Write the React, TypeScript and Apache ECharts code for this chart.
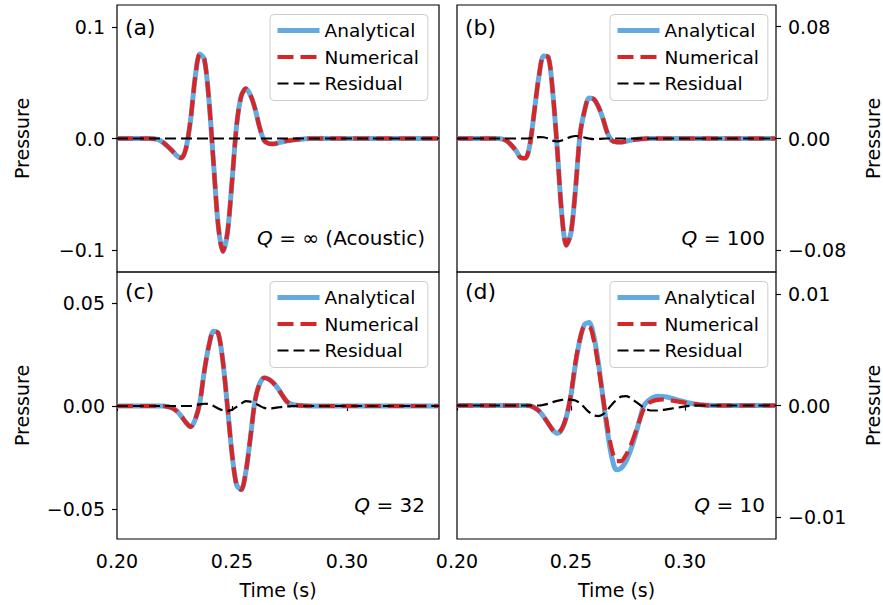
import React, { useEffect, useRef } from "react";
import * as echarts from "echarts";

// Time samples (s)
const TIME = [
  0.200, 0.205, 0.210, 0.214, 0.216, 0.218, 0.220, 0.222, 0.224, 0.226,
  0.228, 0.230, 0.232, 0.234, 0.236, 0.238, 0.240, 0.242, 0.244, 0.246,
  0.248, 0.250, 0.252, 0.254, 0.256, 0.258, 0.260, 0.262, 0.264, 0.266,
  0.268, 0.270, 0.272, 0.274, 0.276, 0.278, 0.280, 0.282, 0.284, 0.286,
  0.288, 0.290, 0.292, 0.294, 0.296, 0.298, 0.300, 0.302, 0.304, 0.306,
  0.308, 0.310, 0.315, 0.320, 0.330, 0.340,
];

// (a) Q = inf
const A_ANALYTICAL = [
  0, 0, 0, 0, -0.0003, -0.001, -0.0035, -0.007, -0.011, -0.0155,
  -0.0175, -0.0087, 0.017, 0.055, 0.0759, 0.071, 0.034, -0.023, -0.078, -0.1015,
  -0.085, -0.039, 0.0117, 0.038, 0.0448, 0.039, 0.027, 0.01, -0.002, -0.0045,
  -0.0049, -0.004, -0.003, -0.002, -0.0015, -0.001, -0.0006, -0.0003, 0, 0,
  0, 0, 0, 0, 0, 0, 0, 0, 0, 0,
  0, 0, 0, 0, 0, 0,
];
const A_NUMERICAL = [
  0, 0, 0, 0, -0.0003, -0.001, -0.0035, -0.007, -0.011, -0.0155,
  -0.0175, -0.0087, 0.017, 0.055, 0.0759, 0.071, 0.034, -0.023, -0.078, -0.1015,
  -0.085, -0.039, 0.0117, 0.038, 0.0448, 0.039, 0.027, 0.01, -0.002, -0.0045,
  -0.0049, -0.004, -0.003, -0.002, -0.0015, -0.001, -0.0006, -0.0003, 0, 0,
  0, 0, 0, 0, 0, 0, 0, 0, 0, 0,
  0, 0, 0, 0, 0, 0,
];
const A_RESIDUAL = [
  0, 0, 0, 0, 0, 0, 0, 0, 0, 0,
  0, 0, 0, 0, 0, 0, 0, 0, 0, 0,
  0, 0, 0, 0, 0, 0, 0, 0, 0, 0,
  0, 0, 0, 0, 0, 0, 0, 0, 0, 0,
  0, 0, 0, 0, 0, 0, 0, 0, 0, 0,
  0, 0, 0, 0, 0, 0,
];

// (b) Q = 100
const B_ANALYTICAL = [
  0, 0, 0, 0, 0, 0, -0.0005, -0.002, -0.005, -0.009,
  -0.0138, -0.0141, -0.0042, 0.0203, 0.045, 0.059, 0.0584, 0.0336, -0.0078, -0.0543,
  -0.0764, -0.0676, -0.0364, 0.0029, 0.0201, 0.029, 0.0282, 0.023, 0.0145, 0.004,
  -0.0015, -0.0026, -0.0027, -0.002, -0.0013, -0.0008, -0.0004, -0.0002, 0, 0,
  0, 0, 0, 0, 0, 0, 0, 0, 0, 0,
  0, 0, 0, 0, 0, 0,
];
const B_NUMERICAL = [
  0, 0, 0, 0, 0, 0, -0.0005, -0.002, -0.005, -0.009,
  -0.0138, -0.0141, -0.0042, 0.0203, 0.045, 0.059, 0.0584, 0.0336, -0.0078, -0.0543,
  -0.0764, -0.0676, -0.0364, 0.0029, 0.0201, 0.029, 0.0282, 0.023, 0.0145, 0.004,
  -0.0015, -0.0026, -0.0027, -0.002, -0.0013, -0.0008, -0.0004, -0.0002, 0, 0,
  0, 0, 0, 0, 0, 0, 0, 0, 0, 0,
  0, 0, 0, 0, 0, 0,
];
const B_RESIDUAL = [
  0, 0, 0, 0, 0, 0, 0, 0, 0, 0,
  0, 0, 0.0002, 0.0006, 0.001, 0.0009, 0, -0.0015, -0.002, -0.0014,
  0, 0.0012, 0.0018, 0.0014, 0.0007, 0, -0.0004, -0.0003, -0.0001, 0,
  0, 0, 0, 0, 0, 0, 0, 0, 0, 0,
  0, 0, 0, 0, 0, 0, 0, 0, 0, 0,
  0, 0, 0, 0, 0, 0,
];

// (c) Q = 32
const C_ANALYTICAL = [
  0, 0, 0, 0, 0, 0, 0, -0.0003, -0.001, -0.0025,
  -0.005, -0.008, -0.0101, -0.0066, 0.0016, 0.0172, 0.0295, 0.0363, 0.0354, 0.0219,
  0, -0.0231, -0.0383, -0.0406, -0.032, -0.0153, 0.0025, 0.0108, 0.0137, 0.013,
  0.0112, 0.0085, 0.005, 0.002, 0.0008, 0.0004, 0.0002, 0.0001, 0, 0,
  0, 0, 0, 0, 0, 0, 0, 0, 0, 0,
  0, 0, 0, 0, 0, 0,
];
const C_NUMERICAL = [
  0, 0, 0, 0, 0, 0, 0, -0.0003, -0.001, -0.0025,
  -0.005, -0.008, -0.0101, -0.0066, 0.0016, 0.0172, 0.0295, 0.0363, 0.0354, 0.0219,
  0, -0.0231, -0.0383, -0.0406, -0.032, -0.0153, 0.0025, 0.0108, 0.0137, 0.013,
  0.0112, 0.0085, 0.005, 0.002, 0.0008, 0.0004, 0.0002, 0.0001, 0, 0,
  0, 0, 0, 0, 0, 0, 0, 0, 0, 0,
  0, 0, 0, 0, 0, 0,
];
const C_RESIDUAL = [
  0, 0, 0, 0, 0, 0, 0, 0, 0, 0,
  0, 0, 0, 0.0004, 0.0008, 0.0011, 0.0009, 0, -0.0012, -0.0021,
  -0.0024, -0.0018, -0.0004, 0.0012, 0.0024, 0.0021, 0.0012, 0.0001, -0.0009, -0.0012,
  -0.001, -0.0007, -0.0004, -0.0002, -0.0001, 0, 0, 0, 0, 0,
  0, 0, 0, 0, 0, 0, 0, 0, 0, 0,
  0, 0, 0, 0, 0, 0,
];

// (d) Q = 10
const D_ANALYTICAL = [
  0, 0, 0, 0, 0, 0, 0, 0, 0, 0,
  0, 0, -0.00003, -0.0002, -0.0005, -0.001, -0.0016, -0.0022, -0.0025, -0.00214,
  -0.00102, 0.0009, 0.00373, 0.00598, 0.00729, 0.00745, 0.00627, 0.00391, 0.00082, -0.00229,
  -0.00471, -0.00578, -0.00564, -0.00508, -0.00413, -0.00288, -0.00141, 0, 0.00043, 0.00072,
  0.00084, 0.00082, 0.00076, 0.00066, 0.00055, 0.00043, 0.00032, 0.00022, 0.00014, 0.00008,
  0.00004, 0.00002, 0, 0, 0, 0,
];
const D_NUMERICAL = [
  0, 0, 0, 0, 0, 0, 0, 0, 0, 0,
  0, 0, -0.00003, -0.0002, -0.0005, -0.001, -0.0016, -0.0022, -0.0025, -0.0021,
  -0.001, 0.001, 0.0039, 0.006, 0.0071, 0.0071, 0.0059, 0.0036, 0.0008, -0.0019,
  -0.004, -0.005, -0.005, -0.0045, -0.0037, -0.0026, -0.0014, -0.0003, 0.0002, 0.0004,
  0.0005, 0.00054, 0.0005, 0.00045, 0.0004, 0.00033, 0.00026, 0.0002, 0.00014, 0.00009,
  0.00005, 0.00002, 0, 0, 0, 0,
];
const D_RESIDUAL = [
  0, 0, 0, 0, 0, 0, 0, 0, 0, 0,
  0, 0, 0, 0, 0, 0.00005, 0.00015, 0.0003, 0.00042, 0.0005,
  0.00054, 0.00052, 0.00045, 0.0002, -0.0002, -0.0006, -0.00088, -0.00095, -0.0008, -0.0004,
  0.0001, 0.0005, 0.0008, 0.00084, 0.0007, 0.0004, 0.0001, -0.0002, -0.0004, -0.00045,
  -0.00045, -0.0004, -0.00035, -0.00028, -0.0002, -0.00014, -0.00008, -0.00004, -0.00002, 0,
  0, 0, 0, 0, 0, 0,
];

const X_TICKS = [0.2, 0.25, 0.3];
const X_TICK_LABELS = ["0.20", "0.25", "0.30"];

const A_Y_TICKS = [-0.1, 0, 0.1];
const A_Y_LABELS = ["\u22120.1", "0.0", "0.1"];
const B_Y_TICKS = [-0.08, 0, 0.08];
const B_Y_LABELS = ["\u22120.08", "0.00", "0.08"];
const C_Y_TICKS = [-0.05, 0, 0.05];
const C_Y_LABELS = ["\u22120.05", "0.00", "0.05"];
const D_Y_TICKS = [-0.01, 0, 0.01];
const D_Y_LABELS = ["\u22120.01", "0.00", "0.01"];

const SERIES_NAMES = ["Analytical", "Numerical", "Residual"];
const PANEL_LABELS = ["(a)", "(b)", "(c)", "(d)"];
const Q_VALUES = ["\u221E (Acoustic)", "100", "32", "10"];

const FONT = "DejaVu Sans";
const BLUE = "#62aae0";
const RED = "#d62728";

export default function App() {
  const ref = useRef<HTMLDivElement>(null);

  useEffect(() => {
    if (!ref.current) return;
    const chart = echarts.init(ref.current, null, { renderer: "svg" });

    const W = 322;
    const H = 267;
    const panels = [
      { left: 117, top: 5, side: "left", bottomRow: false, yMin: -0.12, yMax: 0.12,
        ticks: A_Y_TICKS, labels: A_Y_LABELS, an: A_ANALYTICAL, nu: A_NUMERICAL, re: A_RESIDUAL },
      { left: 457, top: 5, side: "right", bottomRow: false, yMin: -0.0955, yMax: 0.0955,
        ticks: B_Y_TICKS, labels: B_Y_LABELS, an: B_ANALYTICAL, nu: B_NUMERICAL, re: B_RESIDUAL },
      { left: 117, top: 272, side: "left", bottomRow: true, yMin: -0.0645, yMax: 0.065,
        ticks: C_Y_TICKS, labels: C_Y_LABELS, an: C_ANALYTICAL, nu: C_NUMERICAL, re: C_RESIDUAL },
      { left: 457, top: 272, side: "right", bottomRow: true, yMin: -0.012, yMax: 0.012,
        ticks: D_Y_TICKS, labels: D_Y_LABELS, an: D_ANALYTICAL, nu: D_NUMERICAL, re: D_RESIDUAL },
    ];

    const pick = (ticks: number[], labels: string[]) => (v: number) => {
      let best = 0;
      for (let k = 1; k < ticks.length; k++) {
        if (Math.abs(ticks[k] - v) < Math.abs(ticks[best] - v)) best = k;
      }
      return labels[best];
    };

    const zip = (vals: number[]) => TIME.map((t, k) => [t, vals[k]]);

    const grid = panels.map((p) => ({
      left: p.left, top: p.top, width: W, height: H,
      show: true, borderColor: "#000", borderWidth: 1.2, backgroundColor: "transparent",
    }));

    const xAxis = panels.map((p, i) => ({
      type: "value", gridIndex: i, min: 0.2, max: 0.34,
      axisLine: { show: false },
      splitLine: { show: false },
      axisTick: { show: p.bottomRow, length: 5, inside: false, customValues: X_TICKS,
        lineStyle: { color: "#000", width: 1.2 } },
      axisLabel: { show: p.bottomRow, customValues: X_TICKS, formatter: pick(X_TICKS, X_TICK_LABELS),
        fontSize: 19, fontFamily: FONT, color: "#000", margin: 12 },
      name: p.bottomRow ? "Time (s)" : "",
      nameLocation: "middle", nameGap: 41,
      nameTextStyle: { fontSize: 19, fontFamily: FONT, color: "#000" },
    }));

    const yAxis = panels.map((p, i) => ({
      type: "value", gridIndex: i, min: p.yMin, max: p.yMax, position: p.side,
      axisLine: { show: false },
      splitLine: { show: false },
      axisTick: { show: true, length: 5, inside: false, customValues: p.ticks,
        lineStyle: { color: "#000", width: 1.2 } },
      axisLabel: { show: true, customValues: p.ticks, formatter: pick(p.ticks, p.labels),
        fontSize: 19, fontFamily: FONT, color: "#000", margin: 12 },
      name: "Pressure", nameLocation: "middle", nameRotate: 90,
      nameGap: p.side === "left" ? 86 : 87,
      nameTextStyle: { fontSize: 19, fontFamily: FONT, color: "#000" },
    }));

    const series: any[] = [];
    panels.forEach((p, i) => {
      series.push({
        name: SERIES_NAMES[0], type: "line", xAxisIndex: i, yAxisIndex: i,
        data: zip(p.an), symbol: "none", showSymbol: false, smooth: 0.3, z: 2,
        lineStyle: { color: BLUE, width: 5 }, itemStyle: { color: BLUE },
      });
      series.push({
        name: SERIES_NAMES[1], type: "line", xAxisIndex: i, yAxisIndex: i,
        data: zip(p.nu), symbol: "none", showSymbol: false, smooth: 0.3, z: 3,
        lineStyle: { color: RED, width: 4.2, type: [16, 7] }, itemStyle: { color: RED },
      });
      series.push({
        name: SERIES_NAMES[2], type: "line", xAxisIndex: i, yAxisIndex: i,
        data: zip(p.re), symbol: "none", showSymbol: false, smooth: 0.3, z: 4,
        lineStyle: { color: "#000", width: 2.2, type: [11, 5] }, itemStyle: { color: "#000" },
      });
    });

    const legend = panels.map((p) => ({
      data: SERIES_NAMES, orient: "vertical",
      left: p.left + 153, top: p.top + 9.5,
      itemWidth: 42, itemHeight: 20, itemGap: 6.5, itemTextGap: 16,
      padding: [6, 9, 7, 5],
      backgroundColor: "rgba(255,255,255,0.8)", borderColor: "#cccccc", borderWidth: 1, borderRadius: 4,
      itemStyle: { opacity: 0, borderWidth: 0 },
      lineStyle: { width: "inherit", type: "inherit", color: "inherit" },
      textStyle: { fontSize: 18.5, fontFamily: FONT, color: "#000", lineHeight: 20 },
      selectedMode: false,
    }));

    const graphic: any[] = [];
    panels.forEach((p, i) => {
      graphic.push({
        type: "text", x: p.left + 8, y: p.top + (p.bottomRow ? 19 : 22.5),
        style: { text: PANEL_LABELS[i], fontSize: 22, fontFamily: FONT, fill: "#000",
          align: "left", verticalAlign: "middle" },
      });
      graphic.push({
        type: "text", x: p.left + 308, y: p.top + 233,
        style: {
          text: "{q|Q} = " + Q_VALUES[i],
          fontSize: 20, fontFamily: FONT, fill: "#000", align: "right", verticalAlign: "middle",
          rich: { q: { fontStyle: "italic", fontSize: 20, fontFamily: FONT, fill: "#000" } },
        },
      });
    });

    chart.setOption({
      animation: false,
      backgroundColor: "#fff",
      grid, xAxis, yAxis, series, legend, graphic,
    } as any);

    return () => chart.dispose();
  }, []);

  return (
    <div
      ref={ref}
      style={{ position: "absolute", left: 0, top: 0, width: 883, height: 605 }}
    />
  );
}
